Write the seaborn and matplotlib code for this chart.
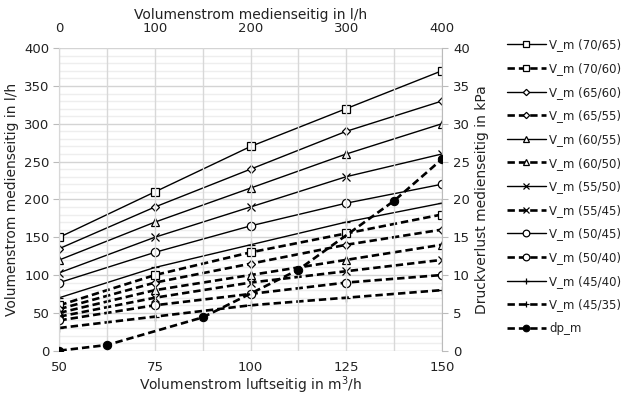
import matplotlib
matplotlib.use("Agg")
import matplotlib.pyplot as plt
from matplotlib.ticker import MultipleLocator
import seaborn as sns

# Volumenstrom luftseitig (m3/h)
luft = [50, 75, 100, 125, 150]

# Volumenstrom medienseitig (l/h) je Temperaturpaar
vm_70_65 = [150, 210, 270, 320, 370]
vm_70_60 = [60, 100, 130, 155, 180]
vm_65_60 = [135, 190, 240, 290, 330]
vm_65_55 = [55, 90, 115, 140, 160]
vm_60_55 = [120, 170, 215, 260, 300]
vm_60_50 = [50, 80, 100, 120, 140]
vm_55_50 = [103, 150, 190, 230, 260]
vm_55_45 = [45, 70, 90, 105, 120]
vm_50_45 = [90, 130, 165, 195, 220]
vm_50_40 = [40, 60, 75, 90, 100]
vm_45_40 = [70, 110, 140, 170, 195]
vm_45_35 = [30, 45, 60, 70, 80]

labels = ["V_m (70/65)", "V_m (70/60)", "V_m (65/60)", "V_m (65/55)",
          "V_m (60/55)", "V_m (60/50)", "V_m (55/50)", "V_m (55/45)",
          "V_m (50/45)", "V_m (50/40)", "V_m (45/40)", "V_m (45/35)"]
series = [vm_70_65, vm_70_60, vm_65_60, vm_65_55, vm_60_55, vm_60_50,
          vm_55_50, vm_55_45, vm_50_45, vm_50_40, vm_45_40, vm_45_35]
markers = ["s", "s", "D", "D", "^", "^", "x", "x", "o", "o", "+", "+"]
msizes = [5.5, 5.5, 4, 4, 5.5, 5.5, 5.5, 5.5, 6, 6, 6, 6]

# Druckverlust medienseitig (kPa) ueber Volumenstrom medienseitig (l/h)
medium = [0, 50, 150, 250, 350, 400]
dp_m = [0, 0.75, 4.4, 10.7, 19.8, 25.3]

sns.set_style("white")
plt.rcParams["font.family"] = ["DejaVu Sans"]
txt = "#222222"

fig = plt.figure(figsize=(6.32, 3.98), dpi=100)
ax = fig.add_axes([0.094, 0.119, 0.605, 0.760])
ax_r = ax.twinx()
ax_t = ax_r.twiny()

dash = (0, (2.8, 1.5))
for i, (vals, lab) in enumerate(zip(series, labels)):
    solid = i % 2 == 0
    sns.lineplot(x=luft, y=vals, ax=ax, color="black", label=lab,
                 linestyle="-" if solid else dash,
                 linewidth=1.0 if solid else 1.9,
                 marker=markers[i], markersize=msizes[i],
                 markerfacecolor="white", markeredgecolor="black",
                 markeredgewidth=0.9, legend=False)

sns.lineplot(x=medium, y=dp_m, ax=ax_t, color="black", label="dp_m",
             linestyle=dash, linewidth=1.9, marker="o", markersize=6,
             markerfacecolor="black", markeredgecolor="black", legend=False)

ax.set_xlim(50, 150)
ax.set_ylim(0, 400)
ax_r.set_ylim(0, 40)
ax_t.set_xlim(0, 400)

ax.xaxis.set_major_locator(MultipleLocator(25))
ax.yaxis.set_major_locator(MultipleLocator(50))
ax.yaxis.set_minor_locator(MultipleLocator(10))
ax_r.yaxis.set_major_locator(MultipleLocator(5))
ax_t.xaxis.set_major_locator(MultipleLocator(100))
ax_t.xaxis.set_minor_locator(MultipleLocator(50))

# grid
ax.grid(False)
for v in range(0, 401, 10):
    ax.axhline(v, color="#d4d4d4" if v % 50 == 0 else "#eeeeee",
               lw=1.0, zorder=0)
for v in range(0, 401, 50):
    ax_t.axvline(v, color="#d8d8d8", lw=1.0, zorder=0)
ax_t.grid(False)
ax_r.grid(False)

for a in (ax, ax_r, ax_t):
    for s in a.spines.values():
        s.set_visible(False)
ax.spines["left"].set_visible(True)
ax.spines["left"].set_color("#bbbbbb")
ax_r.spines["right"].set_visible(True)
ax_r.spines["right"].set_color("#bbbbbb")

ax.tick_params(axis="y", which="major", left=True, length=4, color="#bbbbbb",
               labelsize=9.5, labelcolor=txt, pad=3)
ax.tick_params(axis="y", which="minor", left=False)
ax.tick_params(axis="x", bottom=False, labelsize=9.5, labelcolor=txt, pad=4)
ax_r.tick_params(axis="y", right=True, length=4, color="#bbbbbb",
                 labelsize=9.5, labelcolor=txt, pad=4)
ax_t.tick_params(axis="x", which="both", top=False, labelsize=9.5,
                 labelcolor=txt, pad=6)

ax.set_xlabel("Volumenstrom luftseitig in m$^3$/h", fontsize=10, color=txt,
              labelpad=0)
ax.set_ylabel("Volumenstrom medienseitig in l/h", fontsize=10, color=txt,
              labelpad=4)
ax_r.set_ylabel("Druckverlust medienseitig in kPa", fontsize=10, color=txt,
                labelpad=4)
ax_t.set_xlabel("Volumenstrom medienseitig in l/h", fontsize=10, color=txt,
                labelpad=2)

h1, l1 = ax.get_legend_handles_labels()
h2, l2 = ax_t.get_legend_handles_labels()
leg = fig.legend(h1 + h2, l1 + l2, loc="upper left",
                 bbox_to_anchor=(0.785, 0.93), frameon=False, fontsize=8.5,
                 handlelength=3.3, handletextpad=0.3, labelspacing=0.9,
                 markerscale=0.8)
for t in leg.get_texts():
    t.set_color(txt)

fig.savefig("out.png", dpi=100)
plt.close(fig)
